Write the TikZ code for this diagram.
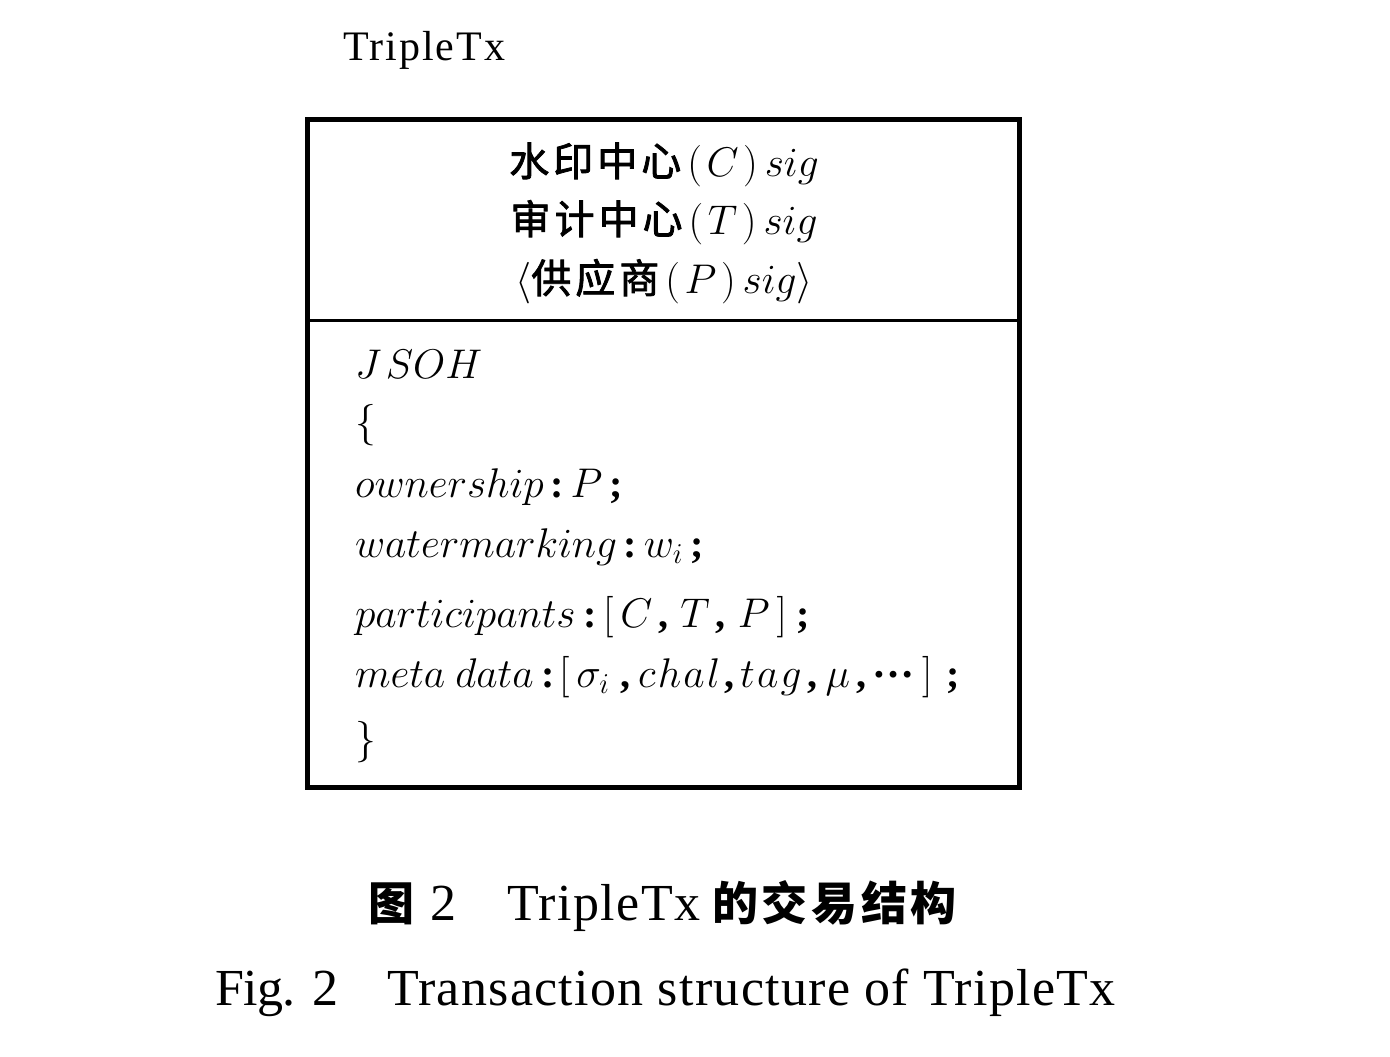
\documentclass[tikz,border=0pt]{standalone}
\usepackage{fontspec}
\setmainfont{Liberation Serif}
\newfontfamily\cjk{Noto Sans CJK SC}
\newfontfamily\cjkm{Noto Sans CJK SC}[FakeBold=2]
\newcommand\cjtop[1]{{\cjkm\addfontfeatures{LetterSpace=10}#1}}
\newcommand\bp[1]{\textbf{#1}}
\newcommand\hdots{\raisebox{0.25em}{\textbf{\fontsize{21}{24}\selectfont …}}}
\tikzset{
  txt/.style={anchor=base west, inner sep=0pt, outer sep=0pt},
  ctxt/.style={anchor=base, inner sep=0pt, outer sep=0pt},
  frame/.style={line width=2.5pt},
  divider/.style={line width=1.5pt},
  body/.style={txt, font=\fontsize{20}{24}\selectfont},
  head/.style={ctxt, font=\fontsize{20}{24}\selectfont},
}
\begin{document}
\begin{tikzpicture}[x=0.5pt,y=-0.5pt]
\useasboundingbox (0,0) rectangle (1390,1056);
% title
\node[txt, font=\fontsize{21}{25}\selectfont\addfontfeatures{LetterSpace=5}] (title) at (343,60) {TripleTx};
% box
\coordinate (nw) at (307,119);
\coordinate (se) at (1019,787);
\coordinate (dl) at (307,320);
\coordinate (dr) at (1019,320);
\draw[frame] (nw) rectangle (se);
\draw[divider] (dl) -- (dr);
% header lines
\node[head] (h1) at (664,176) {\cjtop{水印中心}\hspace{3pt}$(\mkern2mu C\mkern2mu)\mkern3mu sig$};
\node[head] (h2) at (664,234) {\cjtop{审计中心}\hspace{3pt}$(\mkern2mu T\mkern2mu)\mkern3mu sig$};
\node[head] (h3) at (664,293) {$\langle$\cjtop{供应商}\hspace{3pt}$(\mkern2mu P\mkern2mu)\mkern3mu sig\rangle$};
% body
\node[body] (b0) at (355,378) {$J\mkern2mu SOH$};
\node[body] (b1) at (355,435) {$\{$};
\node[body] (b2) at (355,497) {$ownership$\,\bp{:}\,$P$\,\bp{;}};
\node[body] (b3) at (355,557) {$watermarking$\,\bp{:}\,$w_i$\,\bp{;}};
\node[body] (b4) at (355,627) {$participants$\hspace{4pt}\bp{:}\hspace{3pt}$[\,C$\hspace{3pt}\bp{,}\hspace{6pt}$T$\hspace{3pt}\bp{,}\hspace{6pt}$P\,]$\hspace{5pt}\bp{;}};
\node[body] (b5) at (355,687) {$meta\ data$\hspace{4pt}\bp{:}\hspace{2pt}$[\,\sigma_i$\hspace{5pt}\bp{,}\hspace{4pt}$c\mkern1mu h\mkern1mu a\mkern1mu l$\hspace{2pt}\bp{,}\hspace{3pt}$t\mkern1mu a\mkern1mu g$\hspace{3pt}\bp{,}\hspace{4pt}$\mu$\hspace{3pt}\bp{,}\hspace{3pt}\hdots\hspace{4pt}$]$\hspace{7pt}\bp{;}};
\node[body] (b6) at (355,752) {$\}$};
% captions
\node[txt, font=\cjk\bfseries\fontsize{23}{28}\selectfont] (c1a) at (368,920) {图};
\node[txt, font=\fontsize{26}{30}\selectfont] (c1b) at (430,920) {2};
\node[txt, font=\fontsize{26}{30}\selectfont\addfontfeatures{LetterSpace=3}] (c1c) at (507,920) {TripleTx};
\node[txt, font=\cjk\bfseries\fontsize{23}{28}\selectfont\addfontfeatures{LetterSpace=8}] (c1d) at (712,920) {的交易结构};
\node[txt, font=\fontsize{26}{30}\selectfont\addfontfeatures{LetterSpace=-1}] (c2a) at (215,1005) {Fig. 2};
\node[txt, font=\fontsize{26}{30}\selectfont\addfontfeatures{LetterSpace=2.5}] (c2b) at (387,1005) {Transaction structure of TripleTx};
\end{tikzpicture}
\end{document}
